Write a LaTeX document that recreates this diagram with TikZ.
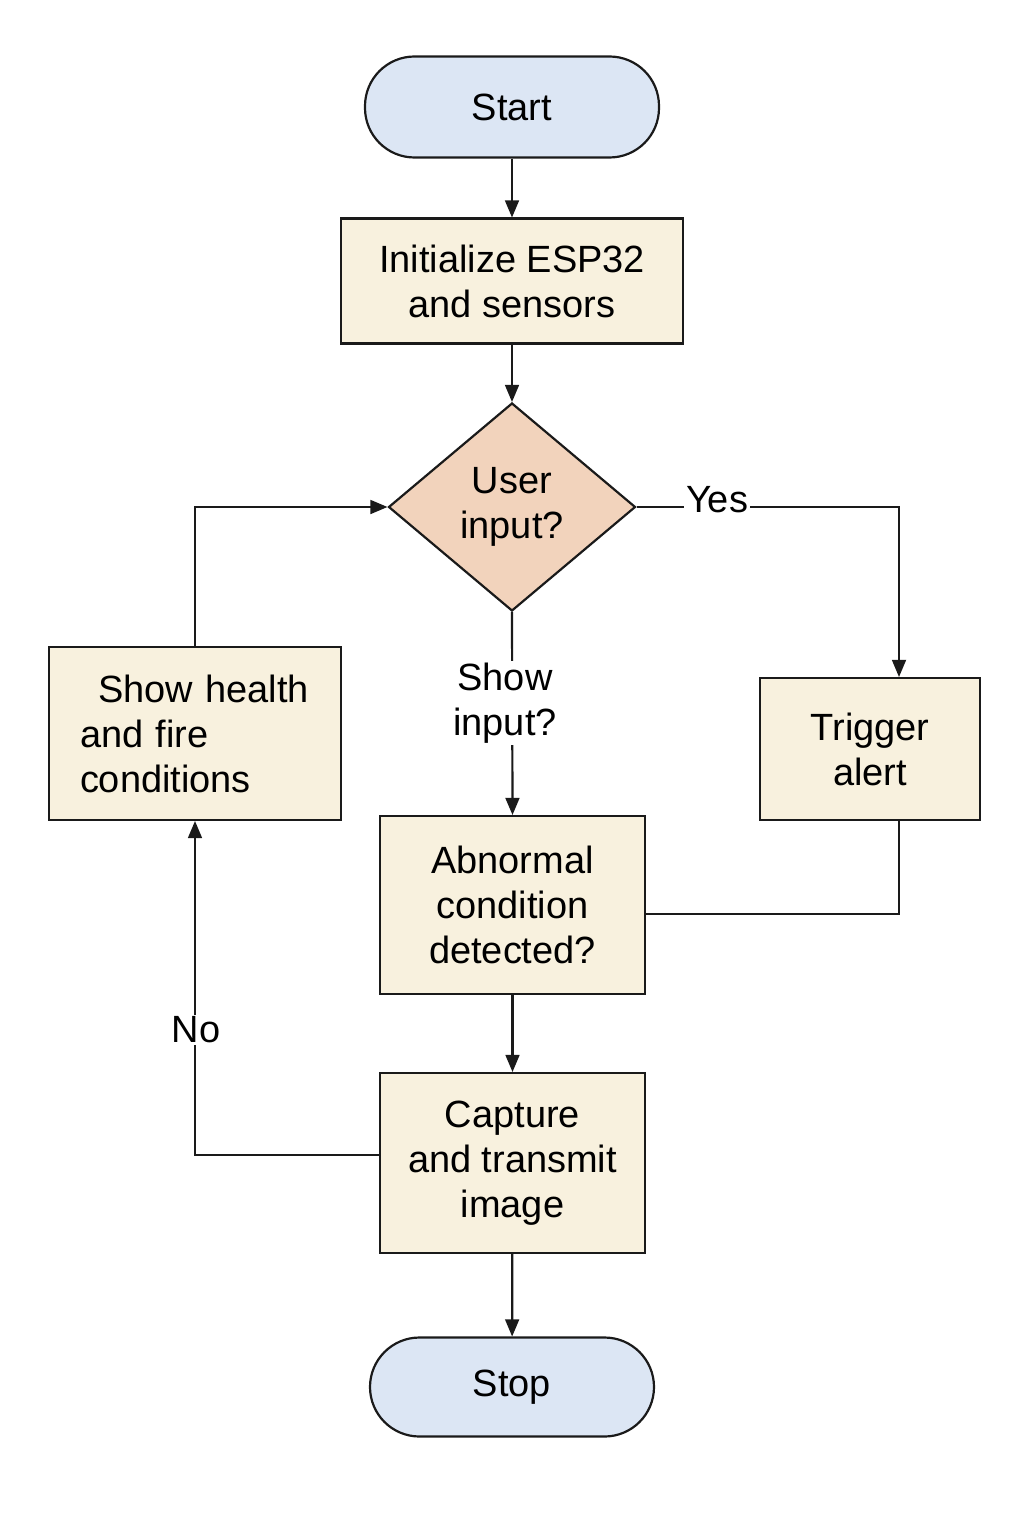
\documentclass[tikz,border=0pt]{standalone}
\usepackage{fontspec}
\setmainfont{Liberation Sans}
\usetikzlibrary{arrows,shapes.geometric,calc,positioning}

\definecolor{termblue}{HTML}{DCE6F4}
\definecolor{boxcream}{HTML}{F8F1DE}
\definecolor{decpeach}{HTML}{F2D3BC}
\definecolor{edgegray}{HTML}{1A1A1A}

\tikzset{
	terminal/.style={draw=edgegray, line width=1.25pt, fill=termblue, rounded corners=0.99cm, align=center},
	process/.style={draw=edgegray, line width=1.25pt, fill=boxcream, align=center},
	decision/.style={draw=edgegray, line width=1.25pt, fill=decpeach, diamond, aspect=1.19, inner sep=0pt, align=center},
	flow/.style={line width=1.25pt, draw=edgegray},
	edgelabel/.style={fill=white, inner sep=1pt}
}

\begin{document}
\begin{tikzpicture}[>=triangle 45, font=\fontsize{21.6}{25.6}\selectfont]
		\useasboundingbox (0,0) rectangle (20.48,-30.72);
		% terminals and boxes
		\node[terminal, minimum width=5.88cm, minimum height=2.02cm] (start) at (10.24,-2.14) {Start};
		\node[process, minimum width=6.84cm, minimum height=2.5cm] (init) at (10.24,-5.62) {Initialize ESP32\\and sensors};
		\node[decision, minimum width=4.94cm, minimum height=4.16cm] (dec) at (10.24,-10.14) {User\\input?};
		\node[process, minimum width=5.84cm, minimum height=3.46cm, align=left, text width=4.6cm] (show) at (3.90,-14.67) {\hspace{0.36cm}Show health\\and fire\\conditions};
		\node[process, minimum width=4.4cm, minimum height=2.84cm] (trig) at (17.40,-14.98) {Trigger\\alert};
		\node[process, minimum width=5.3cm, minimum height=3.56cm] (abn) at (10.25,-18.10) {Abnormal\\condition\\detected?};
		\node[process, minimum width=5.3cm, minimum height=3.6cm] (cap) at (10.25,-23.26) {Capture\\and transmit\\image};
		\node[terminal, minimum width=5.68cm, minimum height=1.98cm] (stop) at (10.24,-27.74) {Stop};

		% corners of the connectors
		\coordinate (yescorner) at (17.98,-10.14);
		\coordinate (trigcorner) at (17.98,-18.28);
		\coordinate (nocorner) at (3.90,-23.10);

		% connectors
		\draw[flow,->] (start) -- (init);
		\draw[flow,->] (init) -- (dec.north);
		\draw[flow,->] (dec.east) -- (yescorner) -- (yescorner |- trig.north);
		\node[edgelabel] (yes) at (14.34,-10.0) {Yes};
		\draw[flow,->] (dec.south) -- (abn.north);
		\node[edgelabel, align=center] (showin) at (10.1,-14.06) {Show\\input?};
		\draw[flow] (yescorner |- trig.south) -- (trigcorner) -- (trigcorner -| abn.east);
		\draw[flow,->] (abn) -- (cap);
		\draw[flow,->] (nocorner -| cap.west) -- (nocorner) -- (show.south);
		\node[edgelabel] (no) at (3.92,-20.6) {No};
		\draw[flow,->] (show.north) |- (dec.west);
		\draw[flow,->] (cap) -- (stop);
\end{tikzpicture}
\end{document}
